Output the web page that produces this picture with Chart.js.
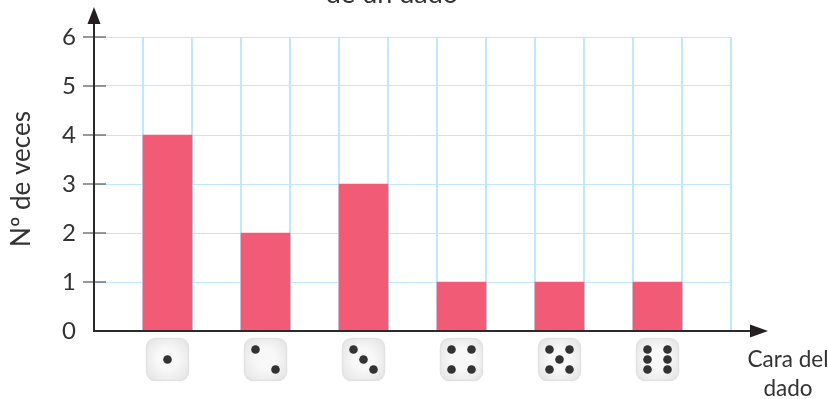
<!DOCTYPE html>
<html>
<head>
<meta charset="utf-8">
<style>
  html, body { margin: 0; padding: 0; background: #fff; overflow: hidden; }
  canvas { display: block; }
</style>
<script src="https://cdn.jsdelivr.net/npm/chart.js@4"></script>
</head>
<body>
<canvas id="barChart" width="828" height="399"></canvas>
<script>
const faces = [1, 2, 3, 4, 5, 6];
const timesRolled = [4, 2, 3, 1, 1, 1];
const yTicks = [0, 1, 2, 3, 4, 5, 6];
const yAxisTitle = "N\u00ba de veces";
const xAxisTitle = ["Cara del", "dado"];
const chartTitle = "de un dado";

// pip positions on a die, -1 / 0 / 1 on each side
const pips = {
    1: [[0, 0]],
    2: [[-1, -1], [1, 1]],
    3: [[-1, -1], [0, 0], [1, 1]],
    4: [[-1, -1], [1, -1], [-1, 1], [1, 1]],
    5: [[-1, -1], [1, -1], [0, 0], [-1, 1], [1, 1]],
    6: [[-1, -1], [1, -1], [-1, 0], [1, 0], [-1, 1], [1, 1]]
};

// the grid has 13 cells of the same width, bars sit in every second one
const slots = [""];
const slotValues = [null];
faces.forEach((face, i) => {
    slots.push(String(face), "");
    slotValues.push(timesRolled[i], null);
});

const textColor = '#333333';
const axisColor = '#2b2b2b';
const gridColor = '#bfe8fa';
const fontName = 'Lato';

function drawDie(ctx, x, y, face) {
    const size = 42;
    ctx.save();
    ctx.beginPath();
    ctx.roundRect(x - size / 2, y - size / 2, size, size, 9);
    const shade = ctx.createRadialGradient(x, y, 10, x, y, 28);
    shade.addColorStop(0, '#f8f8f8');
    shade.addColorStop(1, '#e4e4e4');
    ctx.fillStyle = shade;
    ctx.fill();
    ctx.strokeStyle = '#e2e2e2';
    ctx.lineWidth = 1.5;
    ctx.stroke();
    ctx.fillStyle = '#333333';
    pips[face].forEach(p => {
        ctx.beginPath();
        ctx.arc(x + p[0] * 10, y + p[1] * 10, 4.3, 0, Math.PI * 2);
        ctx.fill();
    });
    ctx.restore();
}

const extras = {
    id: 'extras',
    afterDraw(chart) {
        const ctx = chart.ctx;
        const xScale = chart.scales.x;
        const yScale = chart.scales.y;
        const axisX = xScale.left;
        const axisY = yScale.bottom;

        ctx.save();
        // tick marks cross the vertical axis
        ctx.strokeStyle = '#555555';
        ctx.lineWidth = 1.2;
        yTicks.slice(1).forEach(v => {
            const py = yScale.getPixelForValue(v);
            ctx.beginPath();
            ctx.moveTo(axisX - 11, py);
            ctx.lineTo(axisX + 12, py);
            ctx.stroke();
        });

        // axes with arrow heads
        ctx.strokeStyle = axisColor;
        ctx.fillStyle = '#231f20';
        ctx.lineWidth = 2;
        ctx.beginPath();
        ctx.moveTo(axisX, axisY + 1);
        ctx.lineTo(axisX, 22);
        ctx.moveTo(axisX - 1, axisY);
        ctx.lineTo(752, axisY);
        ctx.stroke();
        ctx.beginPath();
        ctx.moveTo(axisX, 7);
        ctx.lineTo(axisX + 6.5, 24);
        ctx.lineTo(axisX - 6.5, 24);
        ctx.closePath();
        ctx.fill();
        ctx.beginPath();
        ctx.moveTo(768, axisY);
        ctx.lineTo(750, axisY - 6.5);
        ctx.lineTo(750, axisY + 6.5);
        ctx.closePath();
        ctx.fill();

        // dice instead of tick labels
        faces.forEach((face, i) => {
            drawDie(ctx, xScale.getPixelForValue(i * 2 + 1), 359.5, face);
        });

        ctx.fillStyle = textColor;
        ctx.textAlign = 'center';
        ctx.textBaseline = 'alphabetic';
        ctx.font = '22.5px ' + fontName;
        ctx.fillText(xAxisTitle[0], 788, 367);
        ctx.fillText(xAxisTitle[1], 788, 396);
        ctx.font = '27px ' + fontName;
        ctx.fillText(chartTitle, 392, 3);

        // y title sits a bit above the middle of the axis
        ctx.translate(22, 179);
        ctx.rotate(-Math.PI / 2);
        ctx.textBaseline = 'middle';
        ctx.font = '26px ' + fontName;
        ctx.fillText(yAxisTitle, 0, 0);
        ctx.restore();
    }
};

new Chart(document.getElementById('barChart'), {
    type: 'bar',
    data: {
        labels: slots,
        datasets: [{
            data: slotValues,
            backgroundColor: '#f15b75',
            barPercentage: 1,
            categoryPercentage: 1
        }]
    },
    options: {
        responsive: false,
        animation: false,
        layout: { padding: { left: 0, right: 97, top: 37, bottom: 0 } },
        plugins: {
            legend: { display: false },
            tooltip: { enabled: false }
        },
        scales: {
            x: {
                grid: { color: gridColor, lineWidth: 2, drawTicks: false },
                border: { display: false },
                ticks: { display: false },
                afterFit(scale) { scale.height = 68; }
            },
            y: {
                min: 0,
                max: 6,
                afterBuildTicks(scale) { scale.ticks = yTicks.map(v => ({ value: v })); },
                afterFit(scale) { scale.width = 94; },
                grid: { color: gridColor, lineWidth: 1, drawTicks: false },
                border: { display: false },
                ticks: {
                    color: textColor,
                    font: { family: fontName, size: 24 },
                    padding: 18
                }
            }
        }
    },
    plugins: [extras]
});
</script>
</body>
</html>
